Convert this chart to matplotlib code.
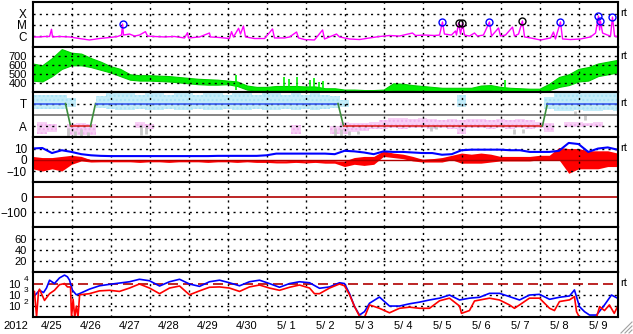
import numpy as np
import matplotlib
matplotlib.use("Agg")
import matplotlib.pyplot as plt
from matplotlib.lines import Line2D

plt.rcParams['font.family'] = ['Liberation Sans', 'DejaVu Sans']
plt.rcParams['font.size'] = 8

nan = np.nan
W, H = 633, 334

# ---------------- data (hours since 2012-04-25 00:00) ----------------
day_labels = ['4/25', '4/26', '4/27', '4/28', '4/29', '4/30', '5/ 1', '5/ 2',
              '5/ 3', '5/ 4', '5/ 5', '5/ 6', '5/ 7', '5/ 8', '5/ 9']
hours6 = np.arange(0, 361, 6)

# x-ray flux, log10(W/m2)
xray = [(0, -6.08), (4.3, -6.08), (7.4, -6.04), (10.5, -6.04), (11.7, -5.40), (12.3, -6.08),
        (16.6, -6.04), (22.8, -6.08), (28.9, -6.22), (35, -6.35), (41.2, -6.22), (47.4, -6.13),
        (52.3, -6.04), (54.8, -5.91), (55.4, -4.93), (56, -5.91), (59.7, -5.82), (62.8, -6.0),
        (65.8, -5.91), (69.5, -5.61), (70.8, -6.0), (75.1, -6.04), (81.2, -6.08), (87.4, -6.04),
        (93.5, -6.17), (95.4, -5.70), (96, -6.17), (102.8, -6.08), (108.9, -5.73), (109.5, -6.08),
        (115.1, -6.13), (121.2, -6.22), (122.5, -5.61), (123.7, -6.08), (126.8, -5.31), (128, -5.82),
        (129.8, -5.11), (131.1, -6.08), (136.6, -6.22), (142.8, -6.22), (147.7, -5.37), (148.9, -6.17),
        (155.1, -6.17), (158.2, -6.08), (162.5, -5.64), (163.7, -6.17), (167.4, -6.31), (173.5, -6.35),
        (178.5, -5.46), (179.7, -6.26), (187.1, -5.82), (188.9, -6.08), (195.1, -6.26), (201.2, -6.31),
        (207.4, -6.17), (213.5, -6.04), (219.7, -5.95), (225.8, -6.0), (233.8, -5.73), (235.7, -5.95),
        (241.2, -5.91), (247.4, -5.95), (250.5, -5.91), (252.3, -4.75), (253.5, -5.82), (257.8, -5.91),
        (260.3, -5.55), (260.9, -5.91), (262.2, -4.84), (263.4, -5.82), (264.6, -4.84), (265.8, -5.91),
        (268.9, -6.0), (272, -5.73), (273.8, -6.0), (277.5, -5.91), (281.2, -4.75), (282.5, -6.0),
        (286.8, -5.28), (288, -6.0), (291.1, -5.91), (295.4, -5.20), (296.6, -6.0), (299.1, -5.82),
        (301.5, -4.66), (302.8, -6.08), (306.5, -6.17), (312.6, -6.35), (318.8, -6.17), (320.6, -5.64),
        (321.8, -6.26), (324.9, -4.75), (326.2, -6.26), (331.1, -6.31), (337.2, -6.26), (343.4, -6.08),
        (346.5, -5.73), (348.3, -4.22), (349, -5.46), (349.5, -4.66), (350.8, -5.73), (353.8, -5.91),
        (355.7, -6.0), (356.9, -4.31), (358.2, -6.0), (360, -6.08)]
flare_hours = [55.4, 252.3, 262.2, 264.6, 281.2, 301.5, 324.9, 348.3, 349.5, 356.9]
flare_log = [-4.93, -4.75, -4.84, -4.84, -4.75, -4.66, -4.75, -4.22, -4.66, -4.31]
flare_color = ['blue', 'blue', 'black', 'black', 'blue', 'black', 'blue', 'blue', 'blue', 'blue']

# solar wind speed band (km/s), 6-hourly
speed_lo = [430, 420, 480, 560, 600, 600, 580, 550, 520, 480,
            440, 430, 430, 425, 420, 410, 400, 390, 385, 385,
            390, 370, 330, 320, 320, 320, 320, 320, 320, 320,
            315, 315, 305, 305, 300, 300, 305, 320, 320, 320,
            310, 310, 308, 308, 308, 310, 325, 325, 315, 308,
            305, 305, 300, 325, 360, 380, 420, 430, 480, 500,
            520]
speed_hi = [620, 600, 680, 780, 740, 730, 680, 640, 590, 560,
            500, 490, 490, 485, 480, 470, 460, 450, 445, 440,
            430, 420, 375, 360, 360, 370, 370, 370, 365, 365,
            345, 345, 330, 330, 325, 325, 330, 400, 395, 380,
            370, 360, 350, 350, 350, 350, 375, 380, 360, 350,
            345, 340, 340, 395, 470, 500, 560, 580, 620, 640,
            660]
speed_spike_hours = [125.5, 155, 158, 162.5, 170.5, 173, 176, 178.5, 290.5]
speed_spike_top = [490, 470, 450, 470, 440, 460, 420, 430, 437]

# IMF sector (3 = T, 1 = A) and phi scatter bands, 6-hourly
sector_hours = [0, 20.3, 23.4, 35.7, 38.8, 188, 191.4, 313.8, 316.9, 360]
sector_level = [3, 3, 1, 1, 3, 3, 1, 1, 3, 3]
cyan_lo = [2.5, 2.5, 2.5, 2.5, 2.7, nan, nan, 2.6, 2.5, 2.4,
           2.4, 2.5, 2.4, 2.4, 2.5, 2.4, 2.4, 2.5, 2.4, 2.4,
           2.5, 2.4, 2.4, 2.5, 2.4, 2.4, 2.5, 2.4, 2.5, 2.4,
           2.5, 2.6, 2.7, nan, nan, nan, nan, nan, nan, nan,
           nan, nan, nan, nan, 2.7, nan, nan, nan, nan, nan,
           nan, nan, nan, 2.5, 2.3, 2.3, 2.4, 2.3, 2.3, 2.4,
           2.3]
cyan_hi = [3.8, 3.8, 3.8, 3.8, 3.5, nan, nan, 3.7, 3.9, 3.9,
           3.9, 3.8, 3.9, 3.9, 3.8, 3.9, 3.9, 3.8, 3.9, 3.9,
           3.8, 3.9, 3.9, 3.8, 3.9, 3.9, 3.8, 3.9, 3.8, 3.9,
           3.8, 3.7, 3.3, nan, nan, nan, nan, nan, nan, nan,
           nan, nan, nan, nan, 3.8, nan, nan, nan, nan, nan,
           nan, nan, nan, 3.6, 3.95, 3.95, 3.9, 3.95, 3.95, 3.9,
           3.95]
pink_lo = [nan, 0.3, 0.5, nan, 0.2, 0.2, 0.2, nan, nan, nan,
           nan, 0.8, 0.7, nan, nan, nan, nan, nan, nan, nan,
           nan, nan, nan, nan, nan, nan, nan, 0.3, nan, nan,
           nan, 0.3, 0.3, 0.5, 0.6, 0.7, 0.7, 0.8, 0.7, 0.8,
           0.8, 0.7, 0.8, 0.7, 0.3, 0.8, 0.8, 0.7, 0.8, 0.7,
           0.8, 0.7, 0.8, 0.5, nan, 0.9, 0.9, 1.0, 0.9, nan,
           nan]
pink_hi = [nan, 1.4, 1.2, nan, 1.2, 1.3, 1.2, nan, nan, nan,
           nan, 1.35, 1.2, nan, nan, nan, nan, nan, nan, nan,
           nan, nan, nan, nan, nan, nan, nan, 1.1, nan, nan,
           nan, 1.0, 1.4, 1.3, 1.3, 1.4, 1.5, 1.7, 1.7, 1.6,
           1.7, 1.6, 1.5, 1.6, 1.5, 1.6, 1.6, 1.5, 1.6, 1.5,
           1.6, 1.5, 1.4, 1.3, nan, 1.4, 1.4, 1.3, 1.4, nan,
           nan]
grey_marks = [(22, 0.0, 0.8), (26, 0.1, 0.6), (30, 0.0, 0.7), (34, 0.1, 0.5), (67, 0.2, 1.1),
              (70, 0.3, 0.9), (186, 0.0, 0.8), (190, 0.1, 0.7), (195, 0.2, 0.6), (200, 0.3, 0.6),
              (245, 0.6, 1.0), (248, 0.7, 1.0), (296, 0.3, 0.7), (302, 0.4, 0.7), (334, 2.0, 2.3),
              (340, 1.5, 2.0)]

# IMF Bt and Bz (nT), 6-hourly
bt = [10, 10.5, 6, 8.5, 7, 5, 4, 3.5, 3.3, 3.3,
      3.3, 3.3, 3.3, 3.3, 3.3, 3.3, 3.3, 3.3, 3.3, 3.5,
      3.5, 3.5, 3.5, 3.5, 4, 5.5, 5.5, 5.5, 5.5, 5.5,
      5.5, 5, 8, 7.5, 6.5, 5, 7.5, 7, 7, 6.5,
      6, 6, 4.5, 5, 8.5, 9, 9, 9, 9, 8.5,
      8.5, 7, 7, 7, 8, 15, 14, 7, 10, 11,
      9]
bz_mid = [-2, -3, -2, -3, 1, 1, -1, -1, -1, -1,
          -1, -1.5, -1, -1, -1.5, -1, -1, -1, -1.5, -1,
          -1, -1.5, -1, -1.5, -1.5, -2, -2, -1.5, -2, -1.5,
          -2, -2, -4, -1, -2, -1, 5, 4, 3, 1,
          -1, -0.5, 0, 2, 1, 0, 1, 1, 1, 1,
          1, 1, 2, 2, 4, -3, 2, 0, 0, 0,
          0]
bz_lo = [-8, -10, -8, -10, -4, -1, -2, -1.8, -1.8, -1.8,
         -1.8, -2.3, -1.8, -1.8, -2.3, -1.8, -1.8, -1.8, -2.3, -1.8,
         -1.8, -2.3, -1.8, -2.3, -2.3, -2.8, -2.8, -2.3, -2.8, -2.3,
         -3, -3, -6, -4, -5, -4, 3, 2, 1, -1,
         -2, -2, -2, 0, -3, -3, -3, -2, -1, -1,
         -1, -1, 0, 0, 0, -12, -8, -8, -8, -6,
         -6]
bz_hi = [3, 2, 2, 3, 4, 3, 0, -0.4, -0.4, -0.4,
         -0.4, -0.9, -0.4, -0.4, -0.9, -0.4, -0.4, -0.4, -0.9, -0.4,
         -0.4, -0.9, -0.4, -0.9, -0.9, -1.4, -1.4, -0.9, -1.4, -0.9,
         -1, -1, -1, 2, 3, 3, 8, 6, 5, 3,
         0.5, 1, 2, 4, 6, 5, 6, 5, 3, 3,
         3, 3, 4, 4, 11, 10, 10, 8, 8, 8,
         6]

# electron flux, log10
elec_blue = [(0, 3.15), (1.8, 3.0), (4.3, 3.4), (6.8, 3.2), (8.6, 3.6), (10.5, 4.3), (13.5, 4.0),
             (16.6, 4.5), (19.7, 4.75), (21.5, 4.6), (22.8, 4.3), (24.6, 3.4), (27, 3.0), (28.9, 3.1),
             (35, 3.5), (41.2, 3.8), (47.4, 3.93), (59.7, 4.16), (65.8, 4.38), (72, 4.25), (78.2, 3.78),
             (84.3, 4.16), (90.5, 4.38), (96.6, 3.96), (102.8, 3.75), (108.9, 4.16), (115.1, 4.3),
             (121.2, 4.07), (127.4, 3.8), (133.5, 4.16), (139.7, 4.3), (145.8, 4.0), (152, 3.67),
             (158.2, 4.0), (164.3, 4.16), (170.5, 4.07), (176.6, 3.58), (182.8, 3.7), (188.9, 4.07),
             (192, 4.0), (195.1, 3.1), (198.2, 1.95), (201.2, 1.2), (204.3, 1.5), (207.4, 2.25),
             (213.5, 2.8), (219.7, 2.0), (225.8, 2.0), (232, 2.2), (238.2, 2.35), (244.3, 2.54),
             (250.5, 2.7), (256.6, 2.98), (262.8, 2.54), (268.9, 2.7), (275.1, 2.78), (281.2, 3.13),
             (287.4, 3.13), (293.5, 2.84), (299.7, 2.54), (305.8, 2.98), (312, 3.04), (318.2, 2.6),
             (324.3, 2.78), (330.5, 2.9), (333.5, 3.43), (336.6, 1.95), (339.7, 1.5), (342.8, 1.2),
             (347.1, 1.2), (352, 2.1), (356.3, 2.98), (360, 2.7)]
elec_red = [(0, 3.3), (1.2, 3.3), (2.5, 1.05), (3.7, 3.3), (4.3, 3.5), (7.4, 2.5), (10.5, 3.1),
            (13.5, 3.4), (16.6, 3.9), (19.7, 4.0), (21.5, 3.7), (23.4, 3.7), (24, 1.0), (25, 2.6),
            (26, 1.0), (27, 2.0), (28, 1.0), (29, 3.0), (35, 3.1), (41.2, 3.35), (47.4, 3.4),
            (53.5, 3.3), (59.7, 3.6), (65.8, 3.96), (72, 3.6), (78.2, 3.1), (84.3, 3.6), (90.5, 3.78),
            (96.6, 3.0), (102.8, 3.35), (108.9, 3.67), (115.1, 3.7), (121.2, 3.6), (127.4, 3.3),
            (133.5, 3.7), (139.7, 3.87), (145.8, 3.6), (152, 3.4), (158.2, 3.67), (164.3, 3.87),
            (170.5, 3.6), (173.5, 3.1), (176.6, 3.1), (182.8, 3.6), (188.9, 3.96), (192, 3.8),
            (195.1, 3.0), (198.2, 1.95), (201.2, 1.1), (204.3, 1.0), (207.4, 2.1), (210.5, 1.95),
            (213.5, 1.8), (219.7, 1.4), (225.8, 1.8), (232, 1.9), (238.2, 1.8), (244.3, 1.8),
            (250.5, 2.47), (256.6, 2.7), (262.8, 2.0), (264, 1.35), (268.9, 1.6), (272, 2.45),
            (281.2, 2.7), (287.4, 2.54), (293.5, 2.1), (296.6, 1.8), (299.7, 2.1), (305.8, 2.7),
            (312, 2.7), (318.2, 1.8), (321.2, 1.6), (324.3, 2.4), (330.5, 2.55), (333.5, 2.84),
            (334.8, 1.5), (336.6, 1.0), (347.1, 1.0), (349, 1.95), (352, 1.6), (355, 2.1),
            (358, 1.35), (360, 1.95)]
elec_decades = [4, 3, 2]

# ---------------- layout ----------------
fig = plt.figure(figsize=(W / 100, H / 100), dpi=100)
dot = dict(color='black', lw=1.0, ls=(0, (1.5, 3)))
left, right = 32.5, 617.5
axes = []
for i in range(7):
    top = 2.3 + 45 * i
    ax = fig.add_axes([left / W, 1 - (top + 45) / H, (right - left) / W, 45 / H])
    ax.set_xlim(0, 360)
    ax.set_xticks([])
    ax.tick_params(length=0, pad=4, labelsize=8.5)
    for s in ax.spines.values():
        s.set_linewidth(1.5)
    for h in range(24, 360, 24):
        ax.axvline(h, **dot)
    axes.append(ax)
ax1, ax2, ax3, ax4, ax5, ax6, ax7 = axes

# panel 1: x-ray
ax1.set_ylim(-7, -3)
ax1.set_yticks([-4, -5, -6], ['X', 'M', 'C'])
for v in [-4, -5, -6]:
    ax1.axhline(v, **dot)
xh, xv = zip(*xray)
ax1.plot(xh, xv, color='#ff00ff', lw=1)
for h, v, c in zip(flare_hours, flare_log, flare_color):
    ax1.plot(h, v, 'o', mfc='none', mec=c, ms=5, mew=1)

# panel 2: solar wind speed
ax2.set_ylim(300, 800)
ax2.set_yticks([700, 600, 500, 400])
ax2.tick_params(labelsize=8)
for v in [700, 600, 500, 400]:
    ax2.axhline(v, **dot)
ax2.fill_between(hours6, speed_lo, speed_hi, color='#00f000', lw=0.8, edgecolor='#00d000')
ax2.vlines(speed_spike_hours, 330, speed_spike_top, color='#00f000', lw=1.2)

# panel 3: sector
ax3.set_ylim(0, 4)
ax3.set_yticks([3, 1], ['T', 'A'])
ax3.bar(hours6, np.array(cyan_hi) - np.array(cyan_lo), bottom=cyan_lo, width=6,
        color='#c4ecf9', edgecolor='#a6e2f6', hatch='....', lw=0)
ax3.bar(hours6, np.array(pink_hi) - np.array(pink_lo), bottom=pink_lo, width=6,
        color='#f8d0f6', edgecolor='#f2b0ee', hatch='....', lw=0)
for h, lo, hi in grey_marks:
    ax3.vlines(h, lo, hi, color='#c8c8c8', lw=2)
for v in [3, 1]:
    ax3.axhline(v, **dot)
ax3.axhline(2, color='#707070', lw=1.2)
for i in range(len(sector_hours) - 1):
    a, b = sector_level[i], sector_level[i + 1]
    col = '#3a5cf0' if a == b == 3 else ('#e02828' if a == b == 1 else '#3c8c3c')
    ax3.plot(sector_hours[i:i + 2], sector_level[i:i + 2], color=col, lw=1.2)

# panel 4: Bt / Bz
ax4.set_ylim(-20, 20)
ax4.set_yticks([10, 0, -10])
for v in [10, -10]:
    ax4.axhline(v, **dot)
ax4.fill_between(hours6, bz_lo, bz_hi, color='#ff0000', lw=0)
ax4.plot(hours6, bz_mid, color='#ff0000', lw=1.2)
ax4.axhline(0, color='#b00000', lw=1)
ax4.plot(hours6, bt, color='#0000ff', lw=1.5)

# panel 5
ax5.set_ylim(-200, 100)
ax5.set_yticks([0, -100])
ax5.axhline(-100, **dot)
ax5.axhline(0, color='#b00000', lw=1.2)

# panel 6
ax6.set_ylim(0, 80)
ax6.set_yticks([60, 40, 20])
ax6.tick_params(labelsize=8)
for v in [60, 40, 20]:
    ax6.axhline(v, **dot)

# panel 7: electrons ("10" as tick label, exponent as a raised small text)
ax7.set_ylim(1, 5)
ax7.set_yticks(elec_decades, ['10'] * len(elec_decades))
ax7.tick_params(axis='y', labelsize=8, pad=9)
for d in elec_decades:
    ax7.annotate(str(d), xy=(0, d), xycoords=('axes fraction', 'data'),
                 xytext=(-8.5, 4), textcoords='offset pixels',
                 ha='left', va='center', fontsize=6)
for v in [3, 2]:
    ax7.axhline(v, **dot)
ax7.axhline(4, color='#b00000', lw=1.2, ls=(0, (6, 3)))
eh, ev = zip(*elec_blue)
ax7.plot(eh, ev, color='#0000ff', lw=1.2)
eh, ev = zip(*elec_red)
ax7.plot(eh, ev, color='#ff0000', lw=1.2)
ax7.set_xticks(np.arange(12, 360, 24), day_labels)
ax7.tick_params(axis='x', length=0, pad=3, labelsize=8)

fig.text(16 / W, 1 - 326 / H, '2012', ha='center', va='center', fontsize=8)
for ypx in [13.5, 56.3, 103.5, 148.5, 283.5]:
    fig.text(620 / W, 1 - ypx / H, 'rt', ha='left', va='center', fontsize=8)

# resize grip
for k in range(3):
    o = 4 * k
    fig.add_artist(Line2D([(621 + o) / W, 632 / W], [1 - 333 / H, 1 - (322 + o) / H],
                          color='#a0a0a0', lw=0.8))

fig.savefig('out.png', dpi=100)
